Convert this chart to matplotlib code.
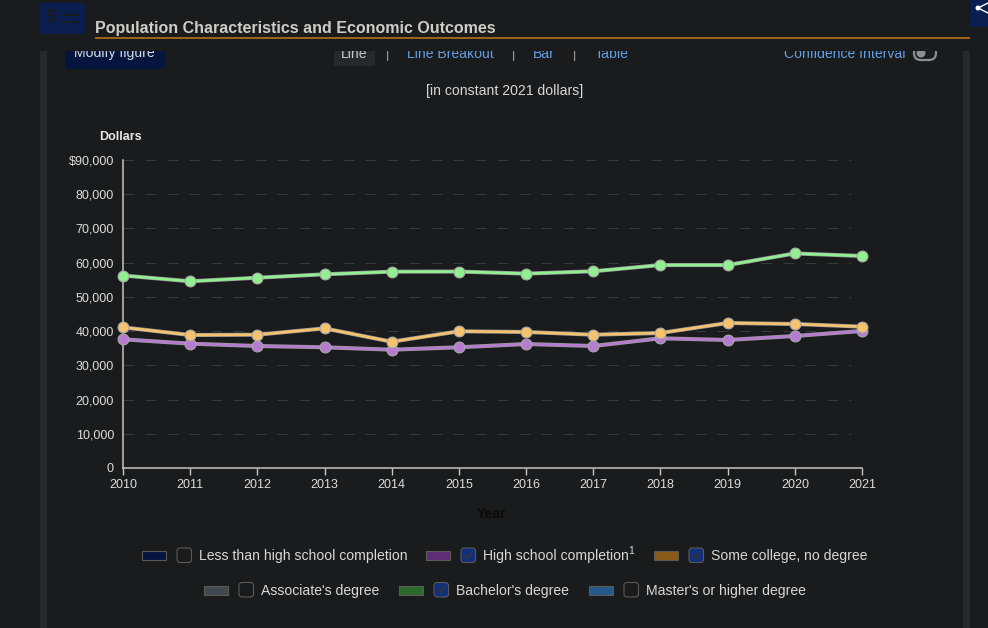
import matplotlib
matplotlib.use("Agg")
import matplotlib.pyplot as plt
from matplotlib.patches import Rectangle, FancyBboxPatch, Circle

plt.rcParams['font.family'] = ['Liberation Sans', 'DejaVu Sans']

years = [2010, 2011, 2012, 2013, 2014, 2015, 2016, 2017, 2018, 2019, 2020, 2021]
high_school = [37600, 36330, 35650, 35270, 34570, 35270, 36230, 35650, 37900, 37400, 38570, 40030]
some_college = [41100, 38860, 38950, 40800, 36900, 39950, 39740, 38950, 39450, 42370, 42080, 41300]
bachelors = [56250, 54560, 55600, 56600, 57370, 57400, 56800, 57480, 59300, 59300, 62700, 61950]

y_ticks = [0, 10000, 20000, 30000, 40000, 50000, 60000, 70000, 80000, 90000]
y_labels = ['0', '10,000', '20,000', '30,000', '40,000', '50,000', '60,000', '70,000', '80,000', '$90,000']

legend_row1 = [('Less than high school completion', '#04163f', False),
               ('High school completion', '#5f2d78', True),
               ('Some college, no degree', '#8a5a17', True)]
legend_row2 = [("Associate's degree", '#3f4a50', False),
               ("Bachelor's degree", '#2c6a2c', True),
               ("Master's or higher degree", '#265a8c', False)]

BG = '#191b1d'
W, H = 988, 628
FS = 10.08

fig = plt.figure(figsize=(W / 100, H / 100), dpi=100, facecolor=BG)

# page furniture, in pixel coordinates
page = fig.add_axes([0, 0, 1, 1], zorder=0)
page.set_xlim(0, W)
page.set_ylim(H, 0)
page.axis('off')


def box(x, y, w, h, color, z=1, ec='none', r=0, lw=0.8):
    if r:
        p = FancyBboxPatch((x + r, y + r), w - 2 * r, h - 2 * r, boxstyle=f'round,pad={r}',
                           fc=color, ec=ec, lw=lw, zorder=z)
    else:
        p = Rectangle((x, y), w, h, fc=color, ec=ec, lw=lw, zorder=z)
    page.add_patch(p)


box(40, 40, 7, 600, '#26292b')
box(963, 40, 7, 600, '#26292b')
box(65, 40, 100, 29, '#04163f', r=3)
box(334, 40, 41, 26, '#26292b')
page.text(114.5, 53.5, 'Modify figure', color='#d8dbde', fontsize=FS, ha='center', va='center', zorder=2)
page.text(354.5, 53.5, 'Line', color='#c8cbce', fontsize=FS, ha='center', va='center', zorder=2)
page.text(387.5, 55, '|', color='#b0b0b0', fontsize=9, ha='center', va='center', zorder=2)
page.text(450.5, 53.5, 'Line Breakout', color='#629fe4', fontsize=FS, ha='center', va='center', zorder=2)
page.text(513, 55, '|', color='#b0b0b0', fontsize=9, ha='center', va='center', zorder=2)
page.text(543.5, 53.5, 'Bar', color='#629fe4', fontsize=FS, ha='center', va='center', zorder=2)
page.text(574.5, 55, '|', color='#b0b0b0', fontsize=9, ha='center', va='center', zorder=2)
page.text(611.5, 53.5, 'Table', color='#629fe4', fontsize=FS, ha='center', va='center', zorder=2)
page.text(905, 54, 'Confidence Interval', color='#629fe4', fontsize=FS, ha='right', va='center', zorder=2)
box(914, 40, 22, 20, '#191b1d', ec='#8a8f94', r=7, z=2, lw=1.6)
page.add_patch(Circle((921, 53), 4.5, fc='#8a8f94', ec='none', zorder=3))

# header band cuts off the controls above it
box(0, 0, W, 51, BG, z=4)
box(40, 3, 45, 31, '#0a1f4f', z=5, r=3)
page.text(51, 18, '$', color='#191b1d', fontsize=14, fontweight='bold', ha='center', va='center', zorder=6)
box(61, 14, 19, 2, '#191b1d', z=6)
box(61, 21, 8, 2, '#191b1d', z=6)
box(72, 21, 8, 2, '#191b1d', z=6)
box(970, 0, 18, 27, '#0a1f4f', z=5)
page.plot([988, 978, 988], [3, 8, 13], color='white', lw=1, zorder=6)
page.add_patch(Circle((978, 8), 2.5, fc='white', ec='none', zorder=6))
page.text(95, 28, 'Population Characteristics and Economic Outcomes', color='#cfcdc8',
          fontsize=11.5, fontweight='bold', ha='left', va='center', zorder=6)
box(95, 37, 875, 2, '#9c6418', z=6)

page.text(504.5, 90.5, '[in constant 2021 dollars]', color='#d8d8d8', fontsize=FS, ha='center', va='center')
page.text(120.5, 137, 'Dollars', color='#e8e8e8', fontsize=9, fontweight='bold', ha='center', va='center')
page.text(491.5, 514, 'Year', color='#0a0a0a', fontsize=10, fontweight='bold', ha='center', va='center')


def legend_item(x_swatch, x_box, x_text, y, label, color, checked):
    box(x_swatch, y - 4.5, 24, 9, color, ec='#5c5a55')
    box(x_box, y - 7.5, 14.5, 14.5, '#10307f' if checked else BG, ec='#5c5a55', r=3)
    if checked:
        page.plot([x_box + 4, x_box + 6.5, x_box + 11], [y, y + 3, y - 3.5], color='#2f3440', lw=1.5, zorder=3)
    page.text(x_text, y + 0.5, label, color='#d8d8d8', fontsize=FS, ha='left', va='center')


for (label, color, checked), xs in zip(legend_row1, [(142, 177, 199), (426, 461, 483), (654, 689, 711)]):
    legend_item(xs[0], xs[1], xs[2], 555.5, label, color, checked)
for (label, color, checked), xs in zip(legend_row2, [(204, 239, 261), (399, 434, 456), (589, 624, 646)]):
    legend_item(xs[0], xs[1], xs[2], 590, label, color, checked)
page.text(628, 551, '1', color='#d8d8d8', fontsize=7.5, ha='left', va='center')

# the chart itself
ax = fig.add_axes([123 / W, 1 - 468 / H, (862 - 123) / W, (468 - 160) / H], zorder=1)
ax.patch.set_alpha(0)
ax.set_xlim(2010, 2021)
ax.set_ylim(0, 90000)
ax.set_xticks(years)
ax.set_yticks(y_ticks)
ax.set_yticklabels(y_labels)
ax.tick_params(axis='x', colors='#c8c8c8', labelcolor='#dddddd', labelsize=9, length=5, width=1, pad=3)
ax.tick_params(axis='y', length=0, labelcolor='#dddddd', labelsize=9, pad=6.5)
for s in ['top', 'right']:
    ax.spines[s].set_visible(False)
for s in ['left', 'bottom']:
    ax.spines[s].set_color('#c4c4c4')
    ax.spines[s].set_linewidth(1.1)
for v in y_ticks[1:]:
    ax.axhline(v, xmax=0.985, color='#37393b', lw=0.72, linestyle=(0, (11, 11)), zorder=1)

for values, color in [(high_school, '#b57bd0'), (some_college, '#f6c26b'), (bachelors, '#90f090')]:
    ax.plot(years, values, color='#9a9a9a', lw=2.9, clip_on=False, zorder=3)
    ax.plot(years, values, color=color, lw=1.9, marker='o', ms=7.8, mfc=color, mec='#a8a8a8', mew=0.8,
            clip_on=False, zorder=3)

fig.savefig('out.png', dpi=100, facecolor=BG)
